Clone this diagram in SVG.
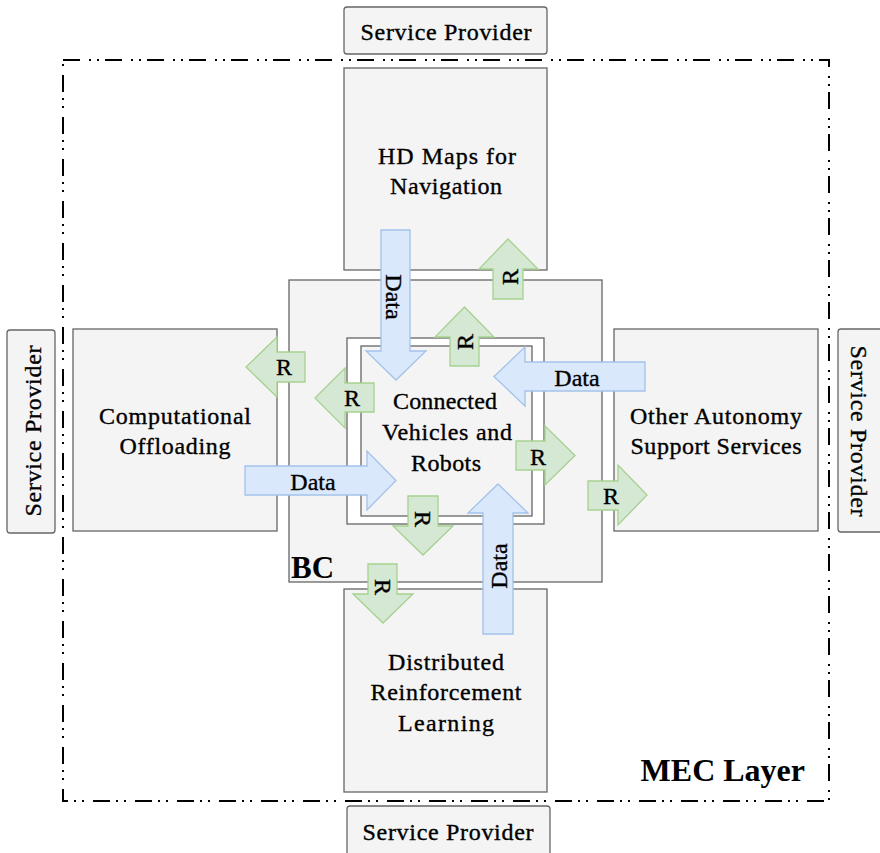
<svg xmlns="http://www.w3.org/2000/svg" width="880" height="853" viewBox="0 0 880 853">
<style>
.box{fill:#f4f4f4;stroke:#666666;stroke-width:1.3}
.sp{fill:#f4f4f4;stroke:#666666;stroke-width:1.3}
.lbl{font-family:"Liberation Serif","Times New Roman",serif;font-size:24px;fill:#000;stroke:#000;stroke-width:0.35;text-anchor:middle}
.big{font-family:"Liberation Serif","Times New Roman",serif;font-size:32px;font-weight:bold;fill:#000}
.blue{fill:#dae8fc;stroke:#a3c2ea;stroke-width:1.3}
.green{fill:#d5e8d4;stroke:#a6d18f;stroke-width:1.3}
.al{font-family:"Liberation Serif","Times New Roman",serif;font-size:24px;fill:#000;stroke:#000;stroke-width:0.35;text-anchor:middle}
</style>
<rect width="880" height="853" fill="#ffffff"/>
<g id="mec-layer">
<rect x="63" y="60" width="766" height="741" fill="none" stroke="#000" stroke-width="2" stroke-dasharray="17 9 2 6 2 6"/>
<text class="big" x="805" y="781" text-anchor="end">MEC Layer</text>
</g>
<g id="sp-top"><rect class="sp" x="344" y="7" width="203" height="47" rx="3"/><text class="lbl" x="446" y="40" textLength="171" lengthAdjust="spacing">Service Provider</text></g>
<g id="sp-bottom"><rect class="sp" x="347" y="806" width="203" height="60" rx="3"/><text class="lbl" x="448" y="840" textLength="171" lengthAdjust="spacing">Service Provider</text></g>
<g id="sp-left"><rect class="sp" x="7" y="330" width="48" height="203" rx="3"/><text class="lbl" transform="translate(33,431) rotate(-90)" x="0" y="8" textLength="171" lengthAdjust="spacing">Service Provider</text></g>
<g id="sp-right"><rect class="sp" x="838" y="329" width="60" height="203" rx="3"/><text class="lbl" transform="translate(859,431) rotate(90)" x="0" y="8" textLength="171" lengthAdjust="spacing">Service Provider</text></g>
<g id="hd-maps"><rect class="box" x="344" y="68" width="203" height="202"/><text class="lbl" x="447" y="164" textLength="138" lengthAdjust="spacing">HD Maps for</text><text class="lbl" x="446" y="194" textLength="112" lengthAdjust="spacing">Navigation</text></g>
<g id="comp-offloading"><rect class="box" x="73" y="329" width="204" height="202"/><text class="lbl" x="175" y="424" textLength="152" lengthAdjust="spacing">Computational</text><text class="lbl" x="175" y="454" textLength="111" lengthAdjust="spacing">Offloading</text></g>
<g id="other-services"><rect class="box" x="614" y="329" width="204" height="202"/><text class="lbl" x="716" y="424" textLength="172" lengthAdjust="spacing">Other Autonomy</text><text class="lbl" x="716" y="454" textLength="171" lengthAdjust="spacing">Support Services</text></g>
<g id="drl"><rect class="box" x="344" y="589" width="203" height="203"/><text class="lbl" x="446" y="670" textLength="116" lengthAdjust="spacing">Distributed</text><text class="lbl" x="446" y="700" textLength="151" lengthAdjust="spacing">Reinforcement</text><text class="lbl" x="446" y="731" textLength="96" lengthAdjust="spacing">Learning</text></g>
<g id="bc"><rect class="box" x="289" y="280" width="313" height="302"/><text class="big" x="291" y="578" textLength="43" lengthAdjust="spacingAndGlyphs">BC</text></g>
<g id="vehicles"><rect x="347" y="338" width="197" height="186" fill="#ffffff" stroke="#666666" stroke-width="1.3"/><rect class="box" x="361" y="346" width="171" height="170"/><text class="lbl" x="445" y="409" textLength="104" lengthAdjust="spacing">Connected</text><text class="lbl" x="447" y="440" textLength="130" lengthAdjust="spacing">Vehicles and</text><text class="lbl" x="446" y="471" textLength="70" lengthAdjust="spacing">Robots</text></g>
<g id="connectors">
<polygon class="blue" points="381,230 410,230 410,351 426,351 396,380 366,351 381,351"/>
<text class="al" transform="translate(394,297) rotate(90)" x="0" y="8">Data</text>
<polygon class="green" points="493,299 493,269 479,269 508,239 538,269 523,269 523,299"/>
<text class="al" transform="translate(510,277) rotate(-90)" x="0" y="8">R</text>
<polygon class="green" points="450,366 450,337 435,337 464.5,307 494,337 479,337 479,366"/>
<text class="al" transform="translate(465,342) rotate(-90)" x="0" y="8">R</text>
<polygon class="blue" points="645,362 525,362 525,347 494,376.5 525,406 525,391 645,391"/>
<text class="al" x="577" y="386">Data</text>
<polygon class="green" points="305,352 277,352 277,337 246,367 277,397 277,382 305,382"/>
<text class="al" x="284" y="375">R</text>
<polygon class="green" points="374,383 345,383 345,368 315,398 345,428 345,412 374,412"/>
<text class="al" x="352" y="406">R</text>
<polygon class="blue" points="245,466 367,466 367,451 396,480.5 367,510 367,495 245,495"/>
<text class="al" x="313" y="490">Data</text>
<polygon class="green" points="516,441 545,441 545,426 575,455.5 545,485 545,470 516,470"/>
<text class="al" x="538" y="465">R</text>
<polygon class="green" points="588,481 618,481 618,465 647,495 618,525 618,510 588,510"/>
<text class="al" x="611" y="504">R</text>
<polygon class="green" points="408,496 438,496 438,526 453,526 423,555 393,526 408,526"/>
<text class="al" transform="translate(423,519) rotate(90)" x="0" y="8">R</text>
<polygon class="green" points="368,564 397,564 397,594 413,594 383,623 353,594 368,594"/>
<text class="al" transform="translate(383,587) rotate(90)" x="0" y="8">R</text>
<polygon class="blue" points="483,634 483,513 468,513 498,484 528,513 513,513 513,634"/>
<text class="al" transform="translate(499,566) rotate(-90)" x="0" y="8">Data</text>
</g>
</svg>
